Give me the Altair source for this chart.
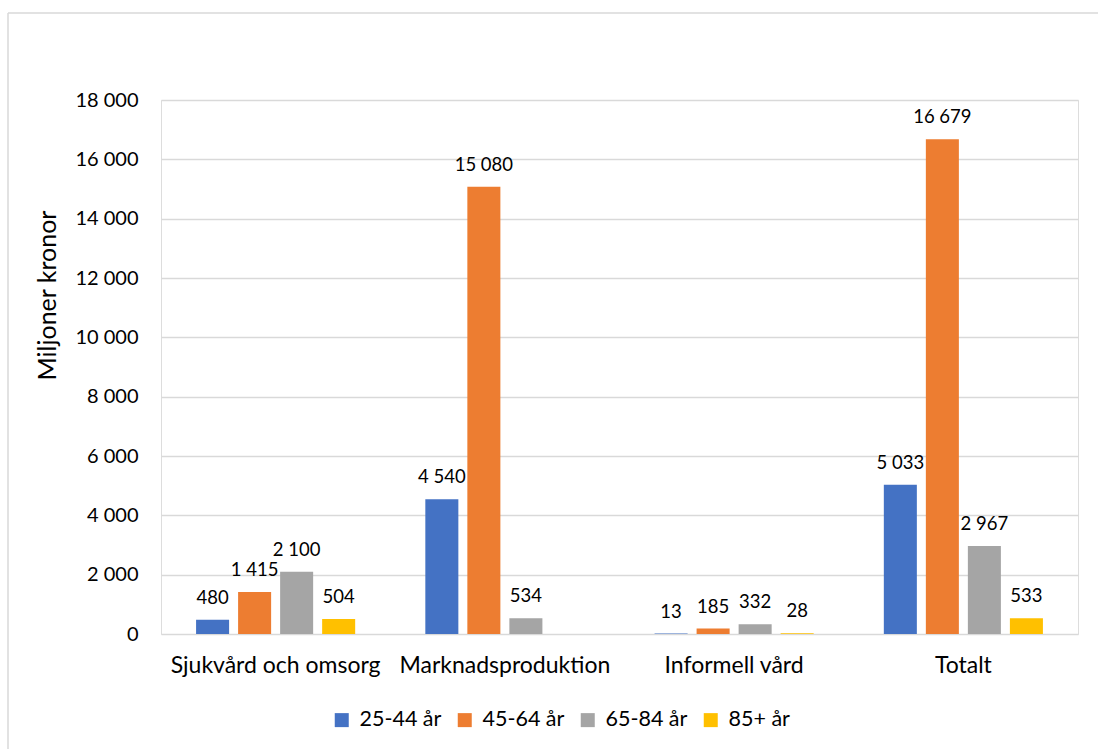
import altair as alt
import pandas as pd

categories = ["Sjukvård och omsorg", "Marknadsproduktion", "Informell vård", "Totalt"]
age_groups = ["25-44 år", "45-64 år", "65-84 år", "85+ år"]
colors = ["#4472C4", "#ED7D31", "#A5A5A5", "#FFC000"]

# Miljoner kronor per category, one list per age group (None = no value)
vals_25_44 = [480, 4540, 13, 5033]
vals_45_64 = [1415, 15080, 185, 16679]
vals_65_84 = [2100, 534, 332, 2967]
vals_85 = [504, None, 28, 533]

series = [vals_25_44, vals_45_64, vals_65_84, vals_85]
rows = []
for grp, vals in zip(age_groups, series):
    for cat, v in zip(categories, vals):
        if v is None:
            continue
        rows.append({
            "kategori": cat,
            "grupp": grp,
            "varde": v,
            "etikett": f"{v:,}".replace(",", " "),
        })
df = pd.DataFrame(rows)

FONT = "Lato"
W, H = 917, 534
FRAME = "#D9D9D9"

x_enc = alt.X(
    "kategori:N",
    sort=categories,
    title=None,
    scale=alt.Scale(paddingInner=0.306, paddingOuter=0.153),
    axis=alt.Axis(
        labelAngle=0, labelFont=FONT, labelFontSize=23, labelColor="#000000",
        labelPadding=20, labelLimit=0, ticks=False, domain=False, grid=False,
    ),
)
xoff = alt.XOffset(
    "grupp:N", sort=age_groups,
    scale=alt.Scale(paddingInner=0.214, paddingOuter=0),
)

bars = alt.Chart(df).mark_bar().encode(
    x=x_enc,
    xOffset=xoff,
    y=alt.Y(
        "varde:Q",
        title="Miljoner kronor",
        scale=alt.Scale(domain=[0, 18000], nice=False),
        axis=alt.Axis(
            values=list(range(0, 18001, 2000)),
            labelExpr="replace(format(datum.value, ','), ',', ' ')",
            labelFont=FONT, labelFontSize=20, labelColor="#000000",
            labelPadding=23, ticks=False, domain=False,
            gridColor="#D9D9D9", gridWidth=1.5,
            titleFont=FONT, titleFontSize=25, titleFontWeight="normal",
            titleColor="#000000", titleAngle=-90,
            titleX=-106, titleY=195, titleBaseline="alphabetic", titleAlign="center",
        ),
    ),
    color=alt.Color(
        "grupp:N", sort=age_groups,
        scale=alt.Scale(domain=age_groups, range=colors),
        legend=alt.Legend(
            title=None, orient="none", direction="horizontal",
            legendX=170, legendY=609,
            symbolType="square", symbolSize=196, symbolStrokeWidth=0,
            labelFont=FONT, labelFontSize=21.5, labelColor="#000000",
            labelOffset=7, columnPadding=12,
        ),
    ),
)

labels = alt.Chart(df).mark_text(
    font=FONT, fontSize=18.5, color="#000000", baseline="alphabetic", dy=-16,
).encode(
    x=alt.X("kategori:N", sort=categories),
    xOffset=xoff,
    y=alt.Y("varde:Q"),
    text="etikett:N",
)

# Outer chart-area border: top and left edges
one = pd.DataFrame({"f": [0]})
frame_top = alt.Chart(one).mark_rule(color=FRAME, strokeWidth=1.5).encode(
    x=alt.value(-153), x2=alt.value(937), y=alt.value(-87),
)
frame_left = alt.Chart(one).mark_rule(color=FRAME, strokeWidth=1.5).encode(
    x=alt.value(-153), y=alt.value(-87), y2=alt.value(649),
)

chart = alt.layer(bars, labels, frame_top, frame_left).properties(
    width=W, height=H,
    autosize=alt.AutoSizeParams(type="none"),
    padding={"left": 161, "top": 100, "right": 20, "bottom": 115},
).configure_view(stroke="transparent").configure(background="#FFFFFF")

chart.save("out.html", embed_options={"renderer": "svg", "actions": False})
